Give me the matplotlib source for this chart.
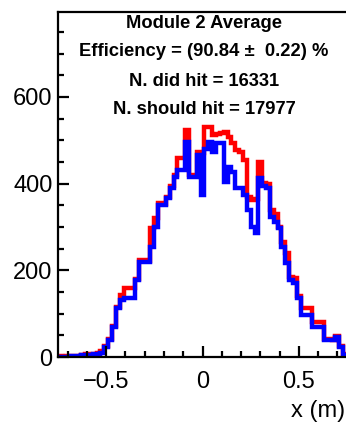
import numpy as np
import matplotlib
matplotlib.use("Agg")
import matplotlib.pyplot as plt
from matplotlib.ticker import MultipleLocator

plt.rcParams['font.family'] = ['Liberation Sans', 'DejaVu Sans']

# 75 bins of 0.02 m from -0.75 to 0.75
x_min, x_max, n_bins = -0.75, 0.75, 75

did_hit = [1, 1, 1, 2, 2, 2, 4, 5, 5, 6,
           7, 10, 24, 39, 70, 113, 131, 136, 136, 136,
           178, 219, 219, 219, 254, 300, 350, 350, 367, 390,
           415, 431, 431, 496, 415, 415, 466, 374, 480, 496,
           473, 493, 493, 404, 438, 427, 390, 390, 374, 339,
           300, 286, 413, 395, 390, 323, 312, 297, 254, 217,
           178, 171, 136, 97, 97, 97, 69, 69, 69, 39,
           39, 39, 46, 23, 5]

should_hit = [2, 1, 2, 2, 3, 3, 5, 6, 6, 8,
              10, 14, 26, 41, 72, 115, 143, 159, 159, 160,
              180, 224, 224, 222, 298, 320, 355, 352, 370, 395,
              420, 459, 459, 524, 420, 420, 474, 470, 531, 531,
              512, 515, 517, 519, 508, 493, 478, 473, 455, 369,
              362, 365, 450, 401, 400, 339, 330, 300, 265, 240,
              185, 182, 140, 113, 113, 113, 81, 81, 81, 42,
              42, 40, 48, 25, 6]

info_lines = ["Module 2 Average",
              "Efficiency = (90.84 \u00b1  0.22) %",
              "N. did hit = 16331",
              "N. should hit = 17977"]

edges = np.linspace(x_min, x_max, n_bins + 1)

W, H = 346, 422
fig = plt.figure(figsize=(W / 100, H / 100), dpi=100)
ax = fig.add_axes([58 / W, 1 - 357 / H, 289 / W, 345 / H])

ax.stairs(should_hit, edges, color='#ff0000', linewidth=3.2, baseline=None)
ax.stairs(did_hit, edges, color='#0000ff', linewidth=3.2, baseline=None)

ax.set_xlim(x_min, x_max)
ax.set_ylim(0, 796)

ax.xaxis.set_major_locator(MultipleLocator(0.5))
ax.xaxis.set_minor_locator(MultipleLocator(0.1))
ax.yaxis.set_major_locator(MultipleLocator(200))
ax.yaxis.set_minor_locator(MultipleLocator(50))

for s in ax.spines.values():
    s.set_linewidth(1.6)
    s.set_color('black')
ax.spines['right'].set_visible(False)

ax.tick_params(which='both', direction='in', width=1.6, top=False, right=False)
ax.tick_params(which='major', length=8, labelsize=17)
ax.tick_params(which='minor', length=4)
ax.tick_params(axis='x', which='major', pad=10)
ax.tick_params(axis='y', which='major', pad=4)

ax.set_xticks([-0.5, 0, 0.5])
ax.set_xticklabels(['\u22120.5', '0', '0.5'])

fig.text(345 / W, 1 - 411 / H, 'x (m)', ha='right', va='center', fontsize=17)

ys = [23, 52, 81, 110]
for t, y in zip(info_lines, ys):
    fig.text(204 / W, 1 - y / H, t, ha='center', va='center', fontsize=13.2,
             fontweight='bold')

fig.savefig('out.png', dpi=100)
